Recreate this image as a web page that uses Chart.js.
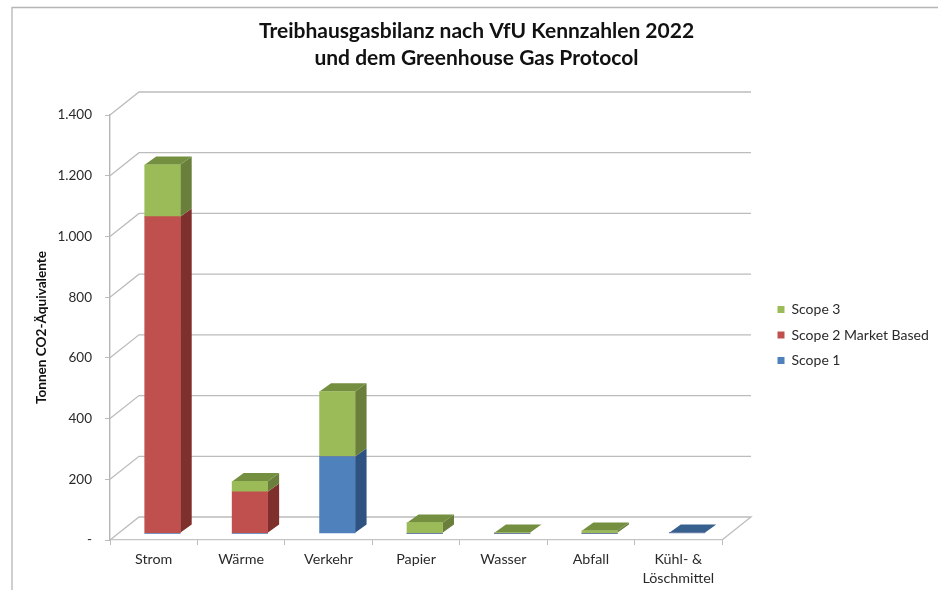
<!DOCTYPE html>
<html lang="de"><head><meta charset="utf-8">
<style>html,body{margin:0;padding:0;background:#fff}canvas{display:block;filter:blur(0.45px)}</style>
<script src="https://cdn.jsdelivr.net/npm/chart.js@4"></script>
</head><body><canvas id="c" width="938" height="590"></canvas>
<script>
const categories = ['Strom','Wärme','Verkehr','Papier','Wasser','Abfall',['Kühl- &','Löschmittel']];
const scope1 = [0,0,253,0,0,0,2];
const scope2 = [1043,137,0,0,0,0,0];
const scope3 = [171,34,214,35,2,8,0];
const seriesNames = ['Scope 1','Scope 2 Market Based','Scope 3'];
const frontColors = ['#4F81BD','#C0504D','#9BBB59'];
const sideColors = ['#2F5380','#7F2F2C','#6A7F3C'];
const topColors = ['#38608F','#94403D','#748F40'];
const titleLines = ['Treibhausgasbilanz nach VfU Kennzahlen 2022','und dem Greenhouse Gas Protocol'];
const axisTitle = 'Tonnen CO2-Äquivalente';

const FONT = 'Lato, "Open Sans", sans-serif';
const WALL = {dx:29, dy:-23}, BAR = {dx:8.75, dy:-6.7}, DEPTH = {dx:11.5, dy:-8.3};
const GRID = '#bcbcbc';

const threeD = {
  id:'threeD',
  beforeLayout(chart){
    const lg = chart.legend;
    if(lg && !lg._fixed){
      const f = lg.fit;
      lg.fit = function(){ f.call(this); this.width = 216; };
      lg._fixed = true;
    }
  },
  afterLayout(chart){
    const lg = chart.legend;
    lg.left = 766; lg.right = 938; lg.top = 235; lg.bottom = 435;
  },
  beforeDraw(chart){
    const c = chart.ctx;
    c.save();
    c.strokeStyle = '#b5b5b5'; c.lineWidth = 1.3;
    c.beginPath(); c.moveTo(12,590); c.lineTo(12,7.5); c.lineTo(938,7.5); c.stroke();
    c.restore();
  },
  beforeDatasetsDraw(chart){
    const c = chart.ctx, y = chart.scales.y, a = chart.chartArea;
    c.save();
    c.strokeStyle = GRID; c.lineWidth = 1.3;
    y.ticks.forEach(t=>{
      const py = y.getPixelForValue(t.value);
      c.beginPath();
      c.moveTo(a.left,py);
      c.lineTo(a.left+WALL.dx,py+WALL.dy);
      c.lineTo(a.right+WALL.dx,py+WALL.dy);
      if(t.value===0) c.lineTo(a.right,py);
      c.stroke();
    });
    // side and top faces of each stacked segment, bottom to top
    const n = categories.length;
    for(let i=0;i<n;i++){
      let last = -1;
      chart.data.datasets.forEach((d,k)=>{ if(d.data[i]>0) last=k; });
      chart.data.datasets.forEach((d,k)=>{
        if(!(d.data[i]>0)) return;
        const p = chart.getDatasetMeta(k).data[i].getProps(['x','y','base','width'],true);
        const R = p.x+p.width/2+BAR.dx, L = p.x-p.width/2+BAR.dx;
        const T = p.y+BAR.dy, B = p.base+BAR.dy;
        c.fillStyle = sideColors[k];
        c.beginPath(); c.moveTo(R,T); c.lineTo(R+DEPTH.dx,T+DEPTH.dy);
        c.lineTo(R+DEPTH.dx,B+DEPTH.dy); c.lineTo(R,B); c.closePath(); c.fill();
        if(k===last){
          c.fillStyle = topColors[k];
          c.beginPath(); c.moveTo(L,T); c.lineTo(L+DEPTH.dx,T+DEPTH.dy);
          c.lineTo(R+DEPTH.dx,T+DEPTH.dy); c.lineTo(R,T); c.closePath(); c.fill();
        }
      });
    }
    c.restore();
    c.save();
    c.translate(BAR.dx,BAR.dy);
  },
  afterDatasetsDraw(chart){ chart.ctx.restore(); }
};

function ds(i,vals){
  return {label:seriesNames[i],data:vals,backgroundColor:frontColors[i],borderWidth:0,
          barThickness:35.5,clip:false};
}
new Chart(document.getElementById('c'),{
  type:'bar',
  data:{labels:categories,datasets:[ds(0,scope1),ds(1,scope2),ds(2,scope3)]},
  plugins:[threeD],
  options:{
    responsive:false,animation:false,
    layout:{padding:{left:15,right:0,top:0,bottom:0}},
    plugins:{
      title:{display:true,text:titleLines,color:'#111',
        font:{family:FONT,size:21,weight:'bold',lineHeight:'27px'},
        padding:{top:18,bottom:43}},
      legend:{position:'right',reverse:true,
        labels:{boxWidth:7,boxHeight:7,padding:11.5,color:'#2a2a2a',font:{family:FONT,size:14}}},
      tooltip:{enabled:false}
    },
    scales:{
      x:{stacked:true,
        afterFit(s){s.height=50;},
        grid:{drawOnChartArea:false,drawTicks:true,tickLength:5,color:GRID,offset:true},
        border:{display:true,color:'#c4c4c4',width:1.2},
        ticks:{color:'#2a2a2a',font:{family:FONT,size:14.3,lineHeight:'19px'},padding:5,maxRotation:0,autoSkip:false}},
      y:{stacked:true,min:0,max:1400,
        afterFit(s){s.width=95;},
        grid:{drawOnChartArea:false,drawTicks:true,tickLength:5,color:GRID},
        border:{display:true,color:'#b5b5b5',width:1.4},
        ticks:{stepSize:200,color:'#2a2a2a',padding:13,font:{family:FONT,size:13.5},
          callback:v=> v===0 ? '-' : String(v).replace(/\B(?=(\d{3})+$)/g,'.')},
        title:{display:true,text:axisTitle,color:'#111',font:{family:FONT,size:13.6,weight:'bold'},padding:{top:18,bottom:0}}}
    }
  }
});
</script></body></html>
